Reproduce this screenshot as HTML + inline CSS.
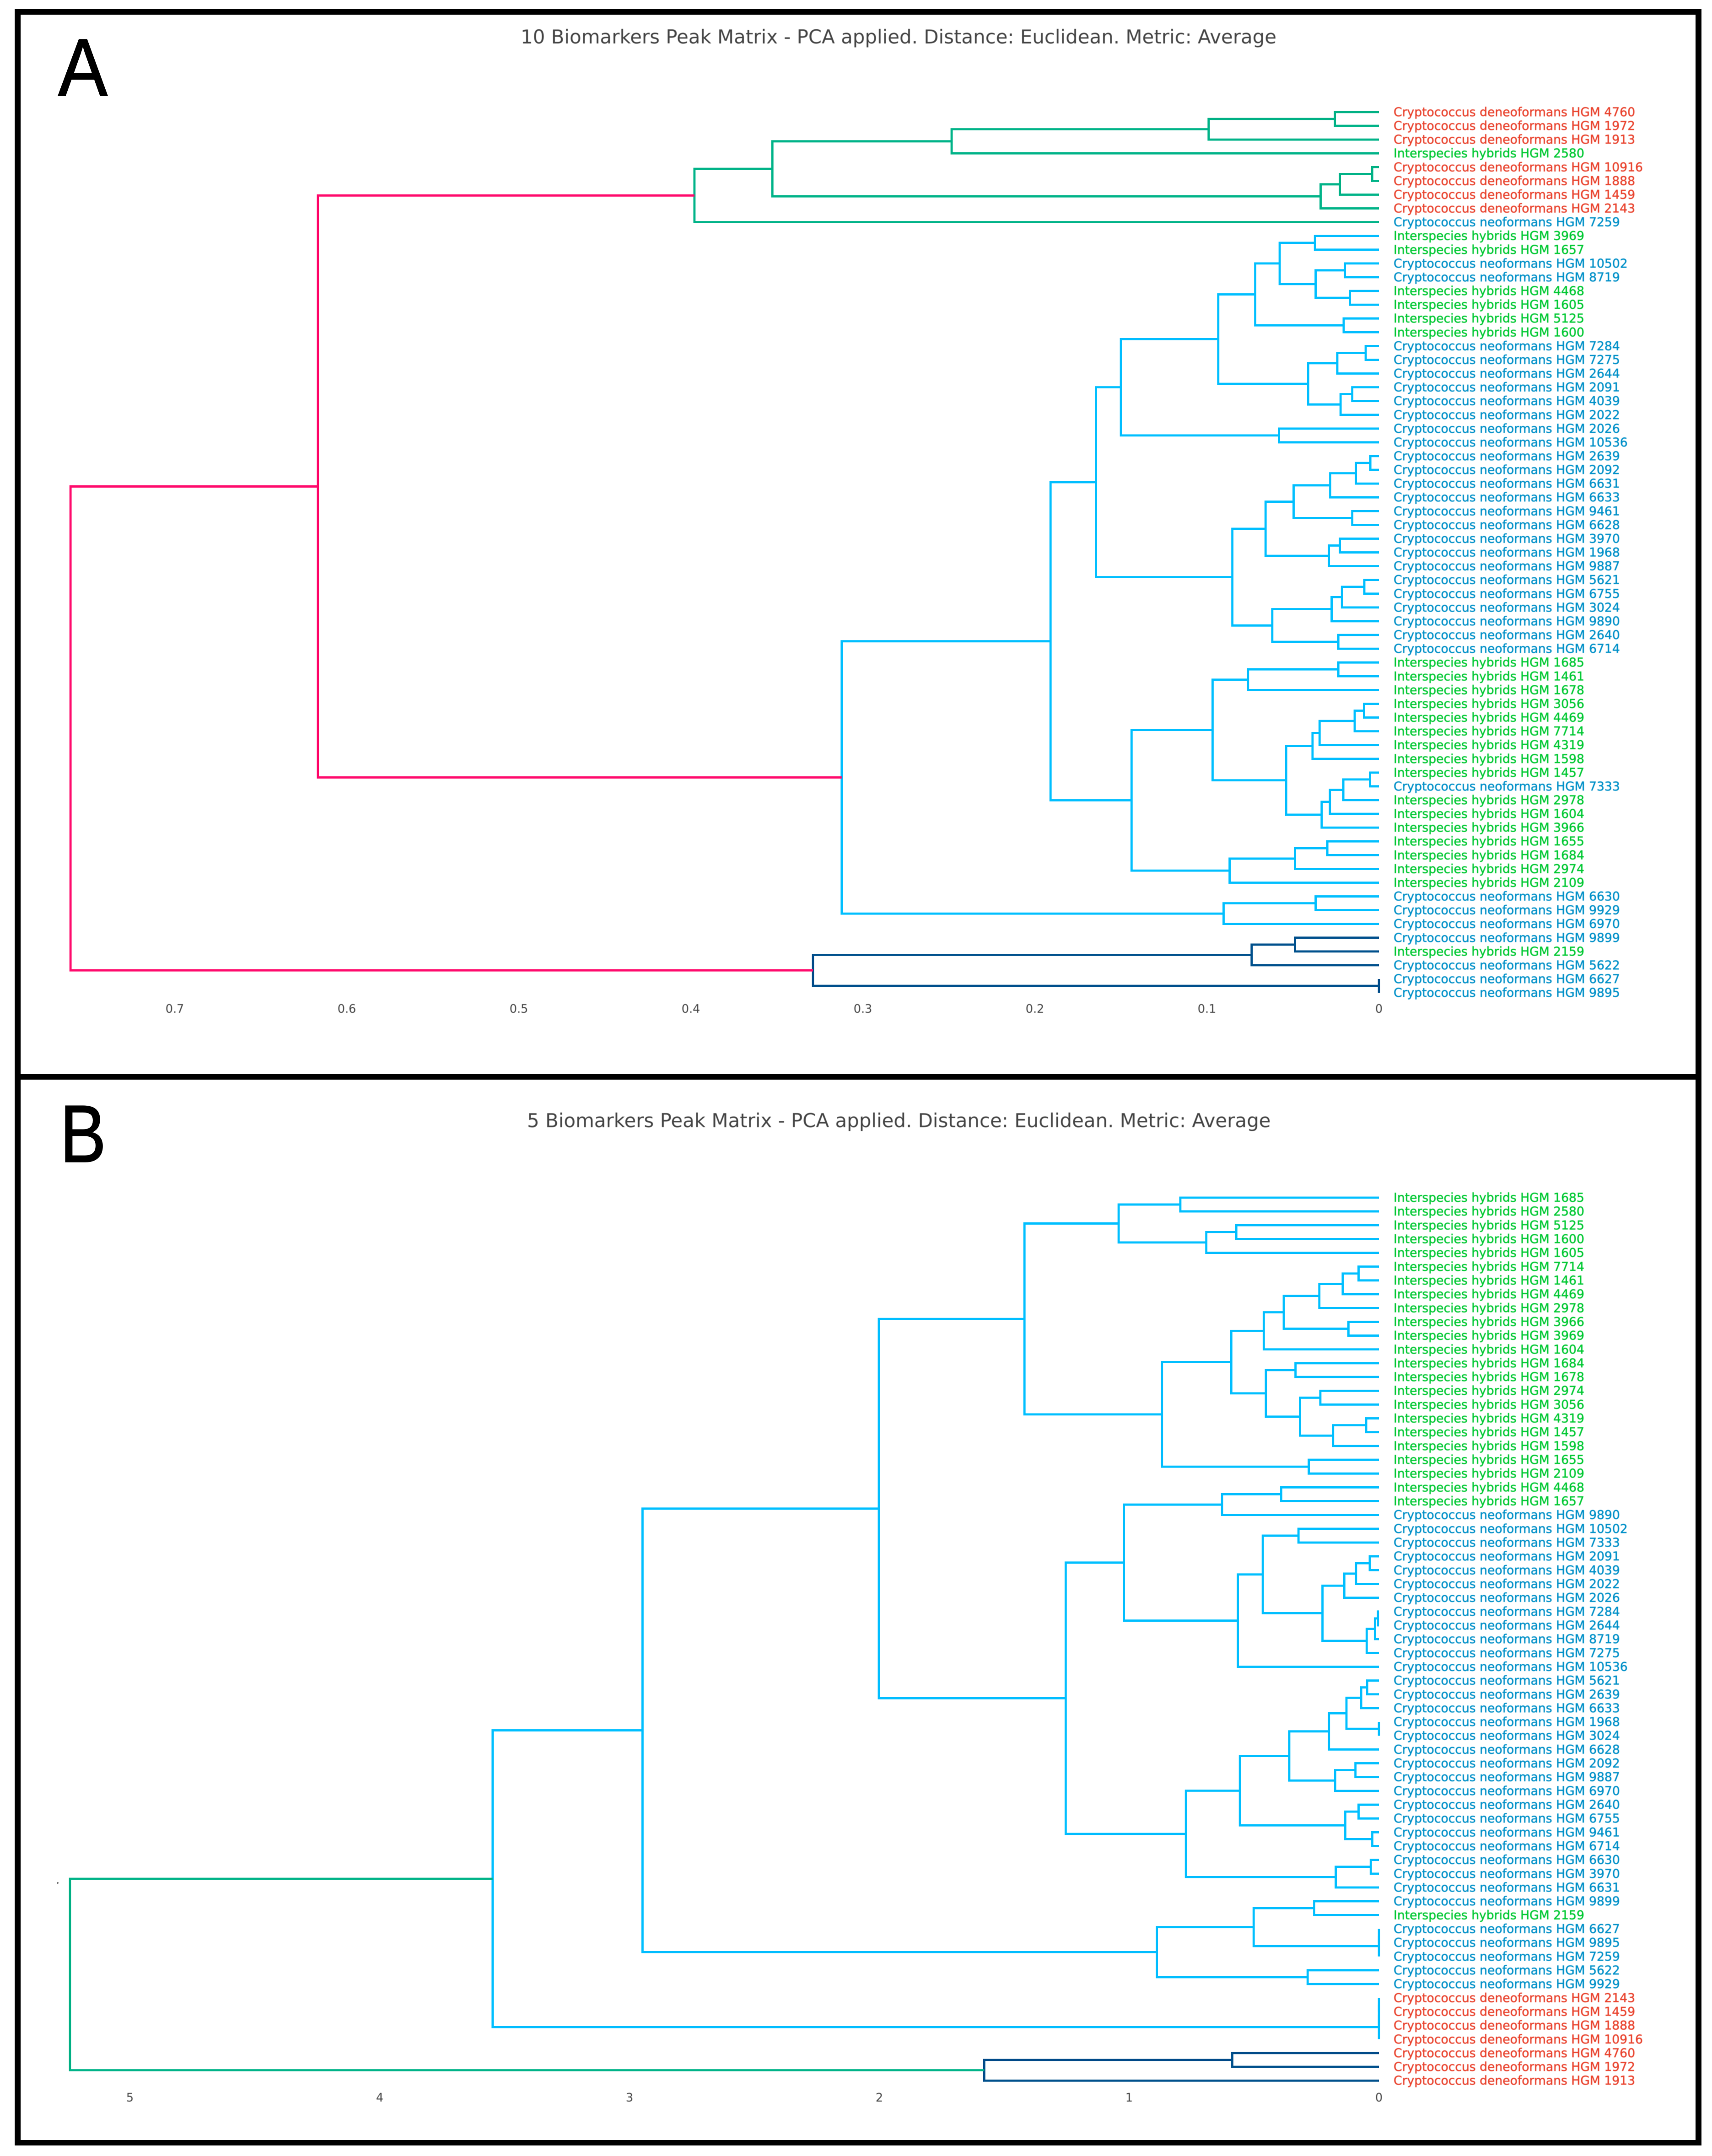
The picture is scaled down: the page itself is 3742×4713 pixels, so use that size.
<!DOCTYPE html>
<html lang="en">
<head>
<meta charset="utf-8">
<title>Biomarker dendrograms</title>
<style>
html,body{margin:0;padding:0;background:#fff;width:3742px;height:4713px;overflow:hidden}
svg{display:block}
.title{font-family:"DejaVu Sans","Liberation Sans",sans-serif;font-size:41.9px;fill:#444;filter:blur(.6px)}
.letter{font-family:"Liberation Sans",sans-serif;font-size:178px;fill:#000;stroke:#000;stroke-width:2px}
.tick{font-family:"DejaVu Sans","Liberation Sans",sans-serif;font-size:25.5px;fill:#444;text-anchor:middle;filter:blur(.5px)}
.leaf{font-family:"DejaVu Sans","Liberation Sans",sans-serif;font-size:26.6px;stroke-width:.5px;filter:blur(.6px)}
</style>
</head>
<body>
<svg id="figure" xmlns="http://www.w3.org/2000/svg" width="3742" height="4713" viewBox="0 0 3742 4713">
  <rect x="0" y="0" width="3742" height="4713" fill="#fff"/>
  <rect x="32" y="20" width="3687" height="12" fill="#000"/>
  <rect x="32" y="20" width="13" height="4670" fill="#000"/>
  <rect x="3706" y="20" width="13" height="4670" fill="#000"/>
  <rect x="32" y="2348" width="3687" height="12" fill="#000"/>
  <rect x="32" y="4678" width="3687" height="12" fill="#000"/>
  <text class="letter" transform="translate(127 209) scale(.91 1)" x="0" y="0">A</text>
  <text class="letter" transform="translate(131 2540) scale(.85 1)" x="0" y="0">B</text>
  <text class="title" x="1138" y="95">10 Biomarkers Peak Matrix - PCA applied. Distance: Euclidean. Metric: Average</text>
  <text class="title" x="1152" y="2464">5 Biomarkers Peak Matrix - PCA applied. Distance: Euclidean. Metric: Average</text>
  <circle cx="126" cy="4116" r="2" fill="#777"/>
  <g id="panel-a"></g>
  <g id="panel-b"></g>
</svg>
<script>
// ---------- Panel A data ----------
const leavesA = [
"D 4760","D 1972","D 1913","H 2580","D 10916","D 1888","D 1459","D 2143","N 7259","H 3969","H 1657","N 10502","N 8719",
"H 4468","H 1605","H 5125","H 1600","N 7284","N 7275","N 2644","N 2091","N 4039","N 2022","N 2026","N 10536","N 2639",
"N 2092","N 6631","N 6633","N 9461","N 6628","N 3970","N 1968","N 9887","N 5621","N 6755","N 3024","N 9890","N 2640",
"N 6714","H 1685","H 1461","H 1678","H 3056","H 4469","H 7714","H 4319","H 1598","H 1457","N 7333","H 2978","H 1604",
"H 3966","H 1655","H 1684","H 2974","H 2109","N 6630","N 9929","N 6970","N 9899","H 2159","N 5622","N 6627","N 9895"];
// Tree shape: x = leaf (in row order); each ")" closes one merge, in the order of the height array.
const topologyA =
"((" +
  "((" + "(((xx)x)x)" + "(((xx)x)x)" + ")x)" +
  "(((" +
    "((" + "(((xx)((xx)(xx)))(xx))" + "(((xx)x)((xx)x)))" + "(xx))" +
    "((((((xx)x)x)(xx))((xx)x))((((xx)x)x)(xx))))" +
    "((" + "((xx)x)" + "(((((xx)x)x)x)((((xx)x)x)x)))" + "(((xx)x)x))" +
  ")" +
  "((xx)x))" +
")" +
"(((xx)x)(xx)))";
const heightsA = [
0.0256,0.099,0.2484,0.0039,0.0227,0.0339,0.3526,0.3979,
0.0372,0.0198,0.0169,0.0368,0.0577,0.0205,0.0719,
0.0077,0.0242,0.0155,0.0223,0.0411,0.0934,0.0581,0.150,
0.005,0.0134,0.0283,0.0155,0.0496,0.0227,0.0291,0.0659,
0.0085,0.0215,0.0275,0.0236,0.062,0.0852,0.1645,
0.0236,0.0761,0.0087,0.0141,0.0345,0.0386,0.0052,0.0207,0.0285,0.0333,0.0539,0.0967,
0.03,0.0488,0.0868,0.1438,0.1909,0.0368,0.0903,0.3123,
0.6168,0.0488,0.074,0,0.329,0.7606];
const clustersA = "tttttttt" + "c".repeat(50) + "p" + "nnnn" + "p";
const tickValuesA = [0,0.1,0.2,0.3,0.4,0.5,0.6,0.7];
const tickLabelsA = ["0","0.1","0.2","0.3","0.4","0.5","0.6","0.7"];

// ---------- Panel B data ----------
const leavesB = [
"H 1685","H 2580","H 5125","H 1600","H 1605","H 7714","H 1461","H 4469","H 2978","H 3966","H 3969","H 1604","H 1684",
"H 1678","H 2974","H 3056","H 4319","H 1457","H 1598","H 1655","H 2109","H 4468","H 1657","N 9890","N 10502","N 7333",
"N 2091","N 4039","N 2022","N 2026","N 7284","N 2644","N 8719","N 7275","N 10536","N 5621","N 2639","N 6633","N 1968",
"N 3024","N 6628","N 2092","N 9887","N 6970","N 2640","N 6755","N 9461","N 6714","N 6630","N 3970","N 6631","N 9899",
"H 2159","N 6627","N 9895","N 7259","N 5622","N 9929","D 2143","D 1459","D 1888","D 10916","D 4760","D 1972","D 1913"];
const topologyB =
"((((((" + "((xx)((xx)x))" +
"(((((((xx)x)x)(xx))x)((xx)((xx)((xx)x))))(xx)))" +
"(" + "(((xx)x)(((xx)((((xx)x)x)(((xx)x)x)))x))" +
"(((((((xx)x)(xx))x)((xx)x))((xx)(xx)))((xx)x))" + "))" +
"(((xx)((xx)x))(xx)))" +
"(((xx)x)x))" +
"((xx)x))";
const heightsB = [
0.795,0.571,0.691,1.042,
0.0815,0.145,0.2385,0.122,0.381,0.461,0.334,0.2345,0.051,0.1835,0.316,0.4526,0.591,0.281,0.8685,1.419,
0.391,0.628,0.322,0.0367,0.0917,0.1386,0.004,0.016,0.049,0.226,0.465,0.565,1.021,
0.047,0.071,0,0.13,0.2,0.094,0.175,0.359,0.0815,0.0265,0.1346,0.5566,0.0326,0.173,0.7727,1.254,2.002,
0.259,0,0,0.5015,0.2854,0.889,2.948,
0,0,0,3.548,0.587,1.58,5.24];
const clustersB = "c".repeat(61) + "nn" + "t";
const tickValuesB = [0,1,2,3,4,5];
const tickLabelsB = ["0","1","2","3","4","5"];

// ---------- Shared styling ----------
const clusterColors = {t:"#00b388",c:"#00bfff",n:"#00508c",p:"#ff0a6c"};
const groupColors = {D:"#e9442f",N:"#0090c8",H:"#00c832"};
const groupNames = {D:"Cryptococcus deneoformans HGM ",N:"Cryptococcus neoformans HGM ",H:"Interspecies hybrids HGM "};
const NS = "http://www.w3.org/2000/svg";

function drawDendrogram(cfg){
  const root = document.getElementById(cfg.id);
  const xScale = v => cfg.x0 - cfg.xUnit * v;
  const yScale = i => cfg.y0 + cfg.rowStep * i;

  // axis ticks
  cfg.tickValues.forEach((v,i)=>{
    const t = document.createElementNS(NS,"text");
    t.setAttribute("class","tick");
    t.setAttribute("x",xScale(v));
    t.setAttribute("y",cfg.tickY);
    
    
    t.textContent = cfg.tickLabels[i];
    root.appendChild(t);
  });

  // leaf labels
  cfg.leaves.forEach((s,i)=>{
    const parts = s.split(" ");
    const t = document.createElementNS(NS,"text");
    t.setAttribute("class","leaf");
    t.setAttribute("x",cfg.labelX);
    t.setAttribute("y",yScale(i)+9);
    t.setAttribute("fill",groupColors[parts[0]]);
    t.setAttribute("stroke",groupColors[parts[0]]);
    
    
    t.textContent = groupNames[parts[0]] + parts[1];
    root.appendChild(t);
  });

  // merges
  const stack = [];
  let leaf = 0, merge = 0;
  for (const ch of cfg.topology){
    if (ch === "x"){
      stack.push({h:0,r:leaf});
      leaf++;
    } else if (ch === ")"){
      const b = stack.pop(), a = stack.pop();
      const h = cfg.heights[merge];
      const p = document.createElementNS(NS,"path");
      p.setAttribute("d","M"+xScale(a.h)+" "+yScale(a.r)+"H"+xScale(h)+"V"+yScale(b.r)+"H"+xScale(b.h));
      p.setAttribute("fill","none");
      p.setAttribute("stroke",clusterColors[cfg.clusters[merge]]);
      p.setAttribute("stroke-width","4.8");
      
      
      root.appendChild(p);
      stack.push({h:h,r:(a.r+b.r)/2});
      merge++;
    }
  }
}

drawDendrogram({id:"panel-a",leaves:leavesA,topology:topologyA,heights:heightsA,clusters:clustersA,
  tickValues:tickValuesA,tickLabels:tickLabelsA,x0:3014,xUnit:3760,y0:245,rowStep:30.08,labelX:3046,tickY:2214});
drawDendrogram({id:"panel-b",leaves:leavesB,topology:topologyB,heights:heightsB,clusters:clustersB,
  tickValues:tickValuesB,tickLabels:tickLabelsB,x0:3014,xUnit:546,y0:2618,rowStep:30.16,labelX:3046,tickY:4594});
</script>
</body>
</html>
